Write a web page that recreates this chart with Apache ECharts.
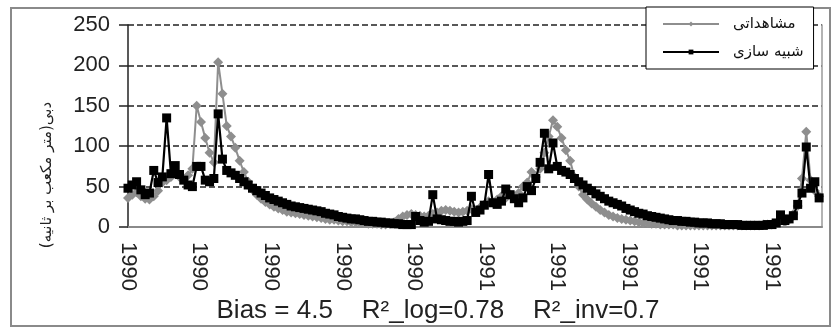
<!DOCTYPE html>
<html><head><meta charset="utf-8">
<script src="https://cdn.jsdelivr.net/npm/echarts@6/dist/echarts.min.js"></script>
<style>html,body{margin:0;padding:0;background:#fff}#c{width:833px;height:330px}</style>
</head><body><div id="c"></div>
<script>
const dayStep = 3;
const dayCount = 485;
const xTickLabels = ['1990','1990','1990','1990','1990','1991','1991','1991','1991','1991'];
const yMin = 0, yMax = 250, yStep = 50;
const seriesNames = ['مشاهداتی', 'شبیه سازی'];
const yAxisTitle = 'دبی(متر مکعب بر ثانیه)';
const statsText = 'Bias = 4.5    R²_log=0.78    R²_inv=0.7';

const observed = [
  36,40,43,38,35,34,38,45,55,58, 62,66,62,60,64,72,150,130,110,92,
  80,204,165,125,112,98,82,68,56,46, 40,35,31,28,25,23,21,19,18,17,
  16,15,14,13,12,11,10,9,9,8, 7,7,6,6,5,5,4,4,4,3,
  3,4,6,10,13,15,16,15,14,13, 14,16,18,20,21,20,19,18,19,20,
  22,20,24,28,32,30,34,38,36,40, 38,42,50,55,68,62,72,92,112,132,
  124,110,95,82,62,50,40,34,29,25, 21,18,15,13,11,10,9,8,7,6,
  5,5,4,4,3,3,3,3,2,2, 2,2,2,2,2,2,2,2,2,2,
  2,2,2,2,2,2,2,2,3,3, 3,4,8,6,9,16,26,60,118,58,
  45,38
];
const simulated = [
  48,52,56,46,40,42,70,55,62,135, 66,76,65,58,52,50,75,75,58,56,
  60,140,84,70,67,64,60,56,52,48, 45,42,39,36,34,32,30,28,26,25,
  24,23,22,21,20,19,17,16,15,13, 12,11,10,10,9,8,7,7,6,6,
  5,5,4,4,3,3,3,13,8,6, 7,40,10,9,8,7,7,6,7,8,
  38,18,21,27,65,30,28,32,47,40, 35,30,36,50,45,60,80,116,72,104,
  75,70,68,65,60,56,52,48,45,41, 38,35,32,30,28,26,23,21,19,17,
  16,14,13,12,11,10,9,8,8,7, 7,6,6,5,5,5,4,4,4,3,
  3,3,3,2,2,2,2,2,2,3, 3,5,15,8,10,14,28,42,99,48,
  56,36
];

const toPairs = arr => arr.map((v, i) => [i * dayStep, v]);

const chart = echarts.init(document.getElementById('c'), null, {renderer: 'canvas'});
const numFont = 'Liberation Sans, Arial, sans-serif';
const faFont = 'DejaVu Sans, Noto Sans, sans-serif';

chart.setOption({
  animation: false,
  backgroundColor: '#fff',
  grid: {left: 128, right: 11, top: 25, bottom: 103, containLabel: false},
  legend: {
    orient: 'vertical', left: 646, top: 7,
    padding: [9, 10, 9, 16], itemWidth: 56, itemHeight: 6, itemGap: 12,
    backgroundColor: '#fff', borderColor: '#000', borderWidth: 1, borderRadius: 0,
    textStyle: {fontFamily: faFont, fontSize: 15, color: '#111', padding: [0, 0, 0, 9], lineHeight: 16},
    data: seriesNames
  },
  xAxis: {
    type: 'value', min: 0, max: dayCount, interval: 50,
    axisLine: {show: true, lineStyle: {color: '#8a8a8a', width: 2}},
    axisTick: {show: false},
    splitLine: {show: false},
    axisLabel: {
      rotate: -90, margin: 15, fontFamily: numFont, fontSize: 22, color: '#222',
      showMaxLabel: false,
      formatter: v => xTickLabels[Math.round(v / 50)] || ''
    }
  },
  yAxis: [{
    type: 'value', min: yMin, max: yMax, interval: yStep,
    axisLine: {show: true, lineStyle: {color: '#222', width: 1.5}},
    axisTick: {show: true, length: 9, lineStyle: {color: '#222', width: 1.5}},
    axisLabel: {margin: 18, fontFamily: numFont, fontSize: 22, color: '#222'},
    splitLine: {show: true, lineStyle: {color: '#222', width: 1.5, type: [6, 3]}}
  }, {
    type: 'value', min: yMin, max: yMax, interval: yStep, position: 'right',
    axisLine: {show: true, lineStyle: {color: '#9a9a9a', width: 1.5}},
    axisTick: {show: false}, axisLabel: {show: false}, splitLine: {show: false}
  }],
  series: [{
    name: seriesNames[0], type: 'line', data: toPairs(observed), z: 2,
    symbol: 'diamond', symbolSize: 10, showAllSymbol: true,
    itemStyle: {color: '#8e8e8e'}, lineStyle: {color: '#8e8e8e', width: 2}
  }, {
    name: seriesNames[1], type: 'line', data: toPairs(simulated), z: 3,
    symbol: 'rect', symbolSize: 9, showAllSymbol: true,
    itemStyle: {color: '#000'}, lineStyle: {color: '#000', width: 2.2}
  }],
  graphic: [
    {type: 'rect', z: -1, silent: true, shape: {x: 11, y: 8, width: 819, height: 318},
     style: {fill: null, stroke: '#8a8a8a', lineWidth: 2}},
    {type: 'text', x: 47, y: 175, rotation: Math.PI / 2,
     style: {text: yAxisTitle, fontFamily: faFont, fontSize: 15, fill: '#222', align: 'center', verticalAlign: 'middle'}},
    {type: 'text', x: 438, y: 311,
     style: {text: statsText, fontFamily: numFont, fontSize: 26, fill: '#222', align: 'center', verticalAlign: 'middle'}}
  ]
});
</script></body></html>
